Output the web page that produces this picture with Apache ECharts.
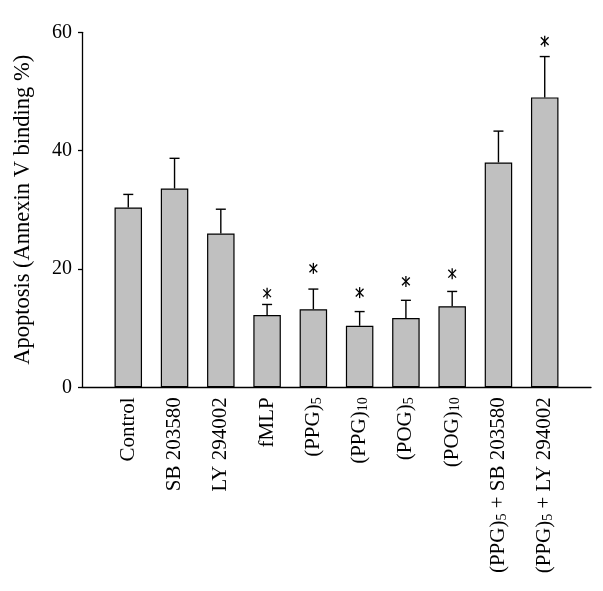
<!DOCTYPE html>
<html>
<head>
<meta charset="utf-8">
<script src="https://cdn.jsdelivr.net/npm/echarts@6/dist/echarts.min.js"></script>
<style>
html,body{margin:0;padding:0;background:#fff;}
#chart{width:603px;height:591px;}
</style>
</head>
<body>
<div id="chart"></div>
<script>
// Category labels (rich text, {s|..} = subscript)
const categories = [
  'Control',
  'SB 203580',
  'LY 294002',
  'fMLP',
  '(PPG){s|5}',
  '(PPG){s|10}',
  '(POG){s|5}',
  '(POG){s|10}',
  '(PPG){s|5} + SB 203580',
  '(PPG){s|5} + LY 294002'
];
// Mean apoptosis (%)
const values = [30.4, 33.6, 26.0, 12.2, 13.2, 10.4, 11.7, 13.7, 38.0, 49.0];
// Upper error (SD)
const errors = [2.2, 5.1, 4.1, 1.8, 3.4, 2.4, 3.0, 2.5, 5.3, 6.9];
// Significance markers: category index and height of asterisk
const starIndex = [3, 4, 5, 6, 7, 9];
const starY = [15.9, 20.1, 16.0, 17.9, 19.2, 58.5];
// Y-axis ticks
const yTicks = [0, 20, 40, 60];

const FONT = 'Liberation Serif';
const chart = echarts.init(document.getElementById('chart'), null, {renderer: 'canvas'});

const barData = values.map((v, i) => [i, v]);
const errData = values.map((v, i) => [i, v, v + errors[i]]);
const starData = starIndex.map((idx, k) => [idx, starY[k]]);

chart.setOption({
  animation: false,
  backgroundColor: '#fff',
  grid: {left: 82, right: 12, top: 32.3, bottom: 203.7, containLabel: false},
  xAxis: {
    type: 'value',
    min: -1, max: 10, interval: 1,
    splitLine: {show: false},
    axisTick: {show: false},
    axisLine: {onZero: false, lineStyle: {color: '#000', width: 1.3}},
    axisLabel: {
      rotate: 90,
      margin: 10,
      fontFamily: FONT,
      fontSize: 21,
      color: '#000',
      showMinLabel: true, showMaxLabel: true,
      formatter: function (v) {
        return (v >= 0 && v < categories.length && Number.isInteger(v)) ? categories[v] : '';
      },
      rich: {
        s: {fontFamily: FONT, fontSize: 14, color: '#000', verticalAlign: 'bottom', padding: [7, 0, 0, 0]}
      }
    }
  },
  yAxis: {
    type: 'value',
    min: yTicks[0], max: yTicks[yTicks.length - 1], interval: 20,
    name: 'Apoptosis (Annexin V binding %)',
    nameLocation: 'middle',
    nameGap: 47,
    nameTextStyle: {fontFamily: FONT, fontSize: 22.5, color: '#000'},
    splitLine: {show: false},
    axisLine: {show: true, onZero: false, lineStyle: {color: '#000', width: 1.3}},
    axisTick: {show: true, length: 4, lineStyle: {color: '#000', width: 1.3}},
    axisLabel: {fontFamily: FONT, fontSize: 20, color: '#000', margin: 10}
  },
  series: [
    {
      type: 'bar',
      data: barData,
      barWidth: 27.5,
      itemStyle: {color: '#c0c0c0', borderColor: '#000', borderWidth: 1.2},
      z: 2
    },
    {
      type: 'custom',
      data: errData,
      z: 3,
      renderItem: function (params, api) {
        const x = api.value(0);
        const p0 = api.coord([x, api.value(1)]);
        const p1 = api.coord([x, api.value(2)]);
        const cap = 5;
        const style = {stroke: '#000', lineWidth: 1.4};
        return {
          type: 'group',
          children: [
            {type: 'line', shape: {x1: p0[0], y1: p0[1], x2: p1[0], y2: p1[1]}, style: style},
            {type: 'line', shape: {x1: p1[0] - cap, y1: p1[1], x2: p1[0] + cap, y2: p1[1]}, style: style}
          ]
        };
      }
    },
    {
      type: 'custom',
      data: starData,
      z: 3,
      renderItem: function (params, api) {
        const c = api.coord([api.value(0), api.value(1)]);
        const r = 5.5;
        const style = {stroke: '#000', lineWidth: 1.3};
        const d = r * Math.SQRT1_2;
        return {
          type: 'group',
          children: [
            {type: 'line', shape: {x1: c[0], y1: c[1] - r, x2: c[0], y2: c[1] + r}, style: style},
            {type: 'line', shape: {x1: c[0] - d, y1: c[1] - d, x2: c[0] + d, y2: c[1] + d}, style: style},
            {type: 'line', shape: {x1: c[0] - d, y1: c[1] + d, x2: c[0] + d, y2: c[1] - d}, style: style}
          ]
        };
      }
    }
  ]
});
</script>
</body>
</html>
